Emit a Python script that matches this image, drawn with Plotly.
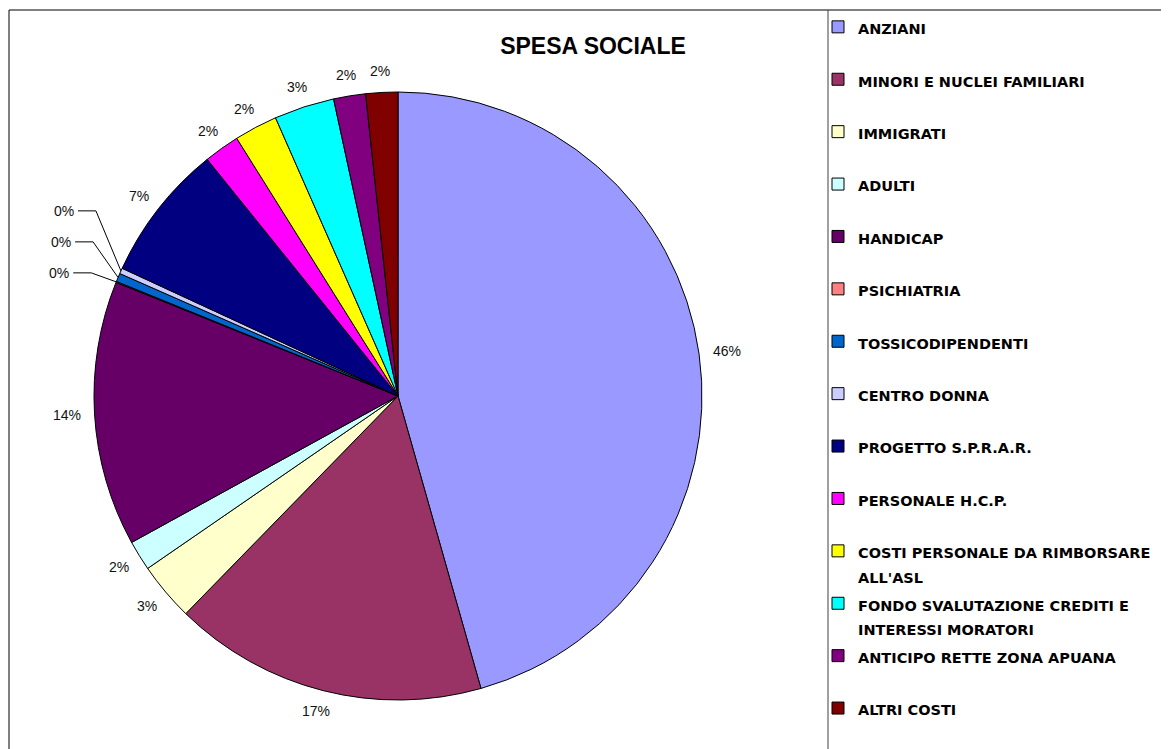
import math
import plotly.graph_objects as go

labels = [
    "ANZIANI",
    "MINORI E NUCLEI FAMILIARI",
    "IMMIGRATI",
    "ADULTI",
    "HANDICAP",
    "PSICHIATRIA",
    "TOSSICODIPENDENTI",
    "CENTRO DONNA",
    "PROGETTO S.P.R.A.R.",
    "PERSONALE H.C.P.",
    "COSTI PERSONALE DA RIMBORSARE ALL'ASL",
    "FONDO SVALUTAZIONE CREDITI E INTERESSI MORATORI",
    "ANTICIPO RETTE ZONA APUANA",
    "ALTRI COSTI",
]
values = [45.6, 16.7, 3.1, 1.6, 14.1, 0.05, 0.45, 0.3, 7.3, 1.9, 2.3, 3.2, 1.7, 1.7]
colors = ["#9999FF", "#993366", "#FFFFCC", "#CCFFFF", "#660066", "#FF8080", "#0066CC",
          "#CCCCFF", "#000080", "#FF00FF", "#FFFF00", "#00FFFF", "#800080", "#800000"]
legend_lines = {
    "COSTI PERSONALE DA RIMBORSARE ALL'ASL": ["COSTI PERSONALE DA RIMBORSARE", "ALL'ASL"],
    "FONDO SVALUTAZIONE CREDITI E INTERESSI MORATORI": ["FONDO SVALUTAZIONE CREDITI E", "INTERESSI MORATORI"],
}
title_text = "SPESA SOCIALE"

W, H = 1169, 749
OFF = 8  # page body margin
cx, cy, r = 398 - OFF, 396 - OFF, 304  # pie centre / radius in figure pixels


def px(x):
    return x / W


def py(y):
    return 1 - y / H


def legend_text(lab):
    parts = legend_lines.get(lab, [lab, "\u00a0"])
    return "<br>".join('<span style="font-size:14.5px"><b>%s</b></span>' % p for p in parts)


fig = go.Figure(go.Pie(
    labels=[legend_text(l) for l in labels],
    values=values,
    sort=False,
    direction="clockwise",
    rotation=0,
    marker=dict(colors=colors, line=dict(color="black", width=1)),
    textinfo="none",
    domain=dict(x=[px(cx - r), px(cx + r)], y=[py(cy + r), py(cy - r)]),
    hoverinfo="label+percent",
))

# percentage labels placed from each slice's mid angle
total = sum(values)
annotations = []
shapes = []
cum = 0.0
tiny_k = 0
tiny_base = None
LFS = 14
for v in values:
    frac = v / total
    mid = (cum + frac / 2) * 2 * math.pi
    cum += frac
    pct = int(frac * 100 + 0.5)
    txt = "%d%%" % pct
    ux, uy = math.sin(mid), -math.cos(mid)
    ex, ey = cx + r * ux, cy + r * uy
    if frac < 0.005:
        if tiny_base is None:
            tiny_base = ey
        ly = tiny_base - 9 - 31 * tiny_k
        elbow_x = ex - 25
        annotations.append(dict(x=px(elbow_x - 20), y=py(ly), xref="paper", yref="paper",
                                text=txt, showarrow=False, xanchor="right", yanchor="middle",
                                font=dict(size=LFS, color="#111111")))
        shapes.append(dict(type="path", xref="paper", yref="paper",
                           path="M %f,%f L %f,%f L %f,%f" % (px(elbow_x - 18), py(ly), px(elbow_x), py(ly),
                                                            px(ex), py(ey)),
                           line=dict(color="black", width=1)))
        tiny_k += 1
        continue
    g = 14
    w = 7.8 * len(str(pct)) + 12.4
    h = 14
    lx = cx + (r + g) * ux + ux * w / 2
    ly = cy + (r + g) * uy + uy * h / 2
    annotations.append(dict(x=px(lx), y=py(ly), xref="paper", yref="paper", text=txt,
                            showarrow=False, xanchor="center", yanchor="middle",
                            font=dict(size=LFS, color="#111111")))

shapes += [
    dict(type="rect", xref="paper", yref="paper", x0=px(9 - OFF), x1=1.01, y0=-0.01, y1=py(10 - OFF),
         line=dict(color="black", width=1)),
    dict(type="line", xref="paper", yref="paper", x0=px(828 - OFF), x1=px(828 - OFF), y0=-0.01,
         y1=py(10 - OFF), line=dict(color="#404040", width=1)),
]

fig.update_layout(
    width=W, height=H,
    margin=dict(l=0, r=0, t=0, b=0),
    paper_bgcolor="white",
    font=dict(family="Liberation Sans, Arial, sans-serif", color="black"),
    title=dict(text="<b>%s</b>" % title_text, x=px(593 - OFF), xanchor="center",
               y=py(46 - OFF), yanchor="middle",
               font=dict(size=23, color="black", family="Liberation Sans, Arial, sans-serif")),
    legend=dict(x=px(818 - OFF), xanchor="left", y=1.0, yanchor="top",
                font=dict(size=19, color="black", family="DejaVu Sans, sans-serif"), valign="top",
                itemwidth=30, bgcolor="rgba(0,0,0,0)", traceorder="normal"),
    annotations=annotations,
    shapes=shapes,
)

fig.write_html("out.html")
